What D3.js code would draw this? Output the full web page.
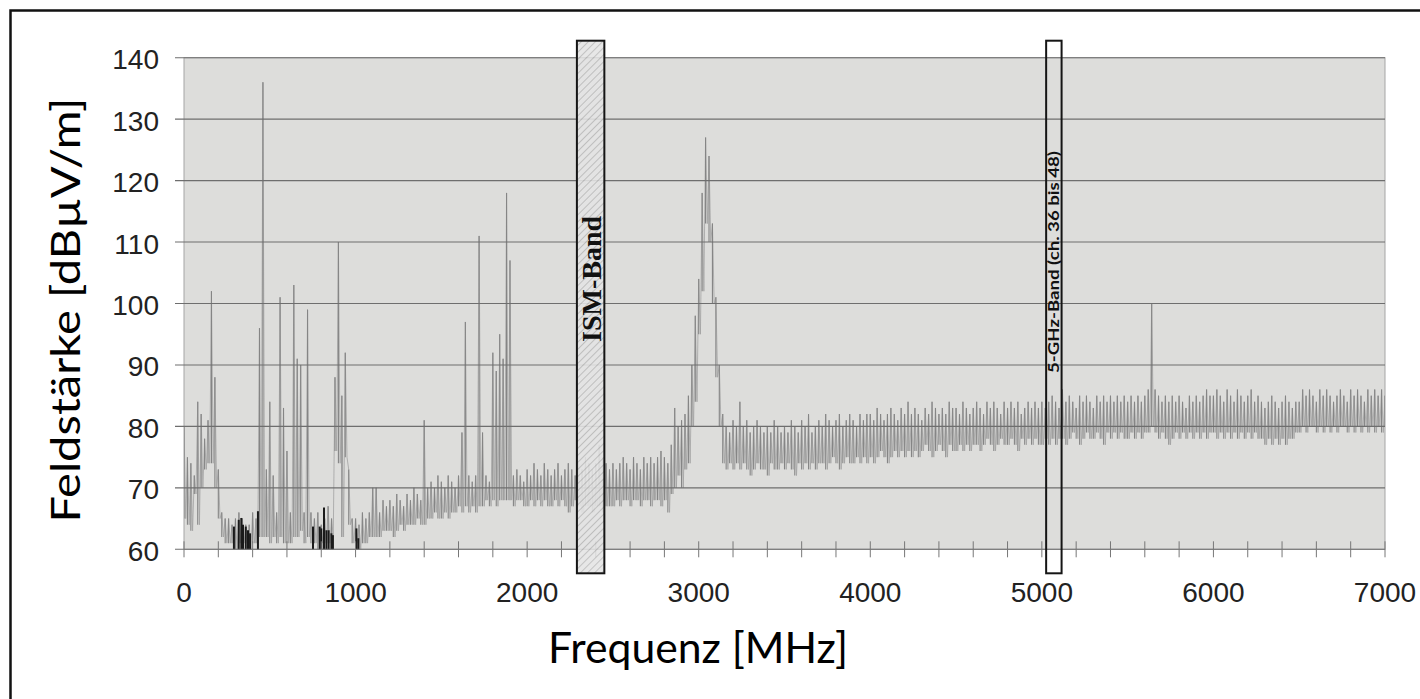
<!DOCTYPE html>
<html>
<head>
<meta charset="utf-8">
<script src="https://cdn.jsdelivr.net/npm/d3@7"></script>
<style>
  body { margin: 0; background: #fff; }
</style>
</head>
<body>
<div id="chart"></div>
<script>
// Spektrum 0–7000 MHz, Feldstärke in dBµV/m, 20-MHz-Bins (Maximum / Minimum je Bin)
const width = 1420;
const height = 699;
const plot = { left: 184, right: 1385, top: 57.7, bottom: 549.3 };

const binStep = 20; // MHz

const hiLevel = [
  80, 75, 74, 72, 84, 82, 78, 81, 102, 88, 73, 66, 65, 65, 64, 65, 66, 65, 64, 64, 66, 65, 96, 136, 73,
  84, 72, 66, 101, 83, 76, 66, 103, 91, 90, 66, 99, 66, 65, 66, 64, 65, 67, 65, 88, 110, 85, 92, 73, 65,
  65, 64, 66, 65, 66, 70, 70, 66, 68, 67, 68, 67, 69, 68, 67, 69, 68, 70, 69, 68, 81, 70, 71, 70, 72,
  71, 70, 72, 71, 70, 72, 79, 97, 72, 71, 72, 111, 79, 72, 71, 92, 89, 95, 91, 118, 107, 72, 73, 72, 71,
  73, 72, 74, 73, 72, 74, 73, 72, 73, 74, 72, 73, 74, 73, 72, 74, 73, 75, 74, 73, 74, 77, 75, 74, 73,
  74, 73, 74, 75, 74, 73, 75, 74, 73, 75, 74, 75, 74, 75, 76, 75, 74, 77, 83, 80, 81, 82, 85, 90, 98,
  104, 118, 127, 124, 113, 101, 90, 82, 80, 79, 81, 80, 84, 80, 81, 79, 80, 81, 80, 79, 80, 79, 81, 80, 79,
  80, 79, 81, 80, 79, 81, 80, 82, 79, 80, 81, 80, 82, 81, 80, 81, 82, 80, 81, 82, 81, 80, 82, 81, 82,
  82, 81, 83, 82, 81, 82, 83, 82, 81, 83, 82, 84, 82, 83, 82, 81, 83, 82, 84, 83, 82, 83, 82, 84, 83,
  83, 82, 84, 83, 82, 83, 84, 83, 82, 84, 83, 84, 83, 82, 84, 83, 84, 83, 84, 82, 83, 84, 83, 84, 83,
  84, 83, 84, 85, 84, 83, 86, 84, 85, 84, 83, 85, 84, 85, 84, 83, 85, 84, 85, 84, 85, 84, 85, 84, 85,
  84, 85, 84, 85, 84, 85, 86, 100, 86, 85, 84, 85, 84, 85, 84, 85, 84, 83, 85, 84, 85, 84, 85, 86, 85,
  85, 86, 85, 84, 86, 85, 84, 86, 85, 84, 85, 86, 84, 85, 84, 83, 84, 85, 84, 83, 84, 85, 84, 83, 84,
  84, 86, 85, 86, 85, 84, 86, 85, 86, 85, 84, 85, 86, 85, 84, 86, 85, 86, 85, 84, 86, 85, 86, 85, 86,
  85
];

const loLevel = [
  65, 64, 63, 69, 64, 70, 73, 74, 74, 70, 65, 62, 61, 61, 61, 60, 61, 61, 61, 60, 61, 61, 62, 62, 62,
  61, 62, 61, 62, 61, 61, 61, 62, 62, 63, 61, 62, 61, 61, 60, 61, 61, 61, 62, 76, 74, 62, 75, 64, 61,
  61, 60, 61, 61, 62, 62, 62, 62, 63, 63, 63, 62, 63, 64, 63, 64, 64, 64, 65, 64, 64, 65, 65, 66, 65,
  65, 66, 65, 66, 66, 67, 66, 67, 66, 67, 66, 67, 67, 68, 67, 68, 67, 68, 68, 68, 68, 67, 68, 68, 67,
  67, 68, 67, 68, 67, 68, 67, 67, 68, 67, 68, 67, 66, 67, 68, 67, 66, 67, 67, 66, 67, 67, 66, 67, 67,
  67, 68, 67, 68, 68, 67, 68, 68, 67, 68, 68, 67, 68, 68, 67, 68, 66, 69, 70, 72, 70, 73, 74, 80, 84,
  95, 102, 113, 110, 100, 88, 80, 74, 73, 74, 73, 74, 73, 74, 73, 72, 73, 74, 73, 73, 72, 74, 73, 73, 74,
  73, 74, 73, 72, 74, 73, 74, 73, 74, 73, 74, 74, 73, 74, 75, 74, 73, 74, 75, 74, 74, 75, 74, 75, 74,
  75, 74, 75, 76, 75, 74, 75, 76, 75, 76, 75, 76, 75, 76, 75, 76, 77, 76, 75, 76, 77, 76, 75, 77, 76,
  76, 77, 76, 77, 76, 77, 77, 76, 77, 78, 77, 76, 77, 78, 77, 77, 78, 77, 76, 78, 77, 78, 77, 78, 77,
  77, 78, 77, 78, 77, 78, 78, 77, 78, 79, 78, 77, 78, 79, 78, 78, 79, 78, 77, 79, 78, 79, 78, 79, 78,
  78, 79, 78, 79, 78, 79, 79, 80, 79, 78, 79, 78, 77, 78, 79, 78, 79, 78, 79, 78, 79, 78, 79, 78, 79,
  79, 78, 79, 78, 79, 78, 79, 78, 79, 78, 79, 78, 79, 78, 78, 77, 78, 77, 78, 77, 78, 77, 78, 78, 79,
  79, 80, 79, 80, 80, 79, 80, 79, 80, 79, 80, 79, 80, 80, 79, 80, 79, 80, 79, 80, 79, 80, 79, 80, 79,
  80
];

// dunkle Striche am unteren Rand (Pegel unter der Skala)
const darkBars = [
  [291, 63.7], [319, 64.8], [334, 65.1], [344, 64.0], [360, 63.7], [373, 63.1], [385, 62.6],
  [431, 66.2], [752, 63.7], [791, 63.7], [800, 63.4], [816, 66.8], [830, 63.1], [843, 63.1],
  [859, 62.6], [868, 62.3], [1005, 63.4], [1016, 61.8]
];

const bands = [
  { name: "ISM-Band", from: 2290, to: 2450, hatched: true },
  { name: "5-GHz-Band (ch. 36 bis 48)", from: 5025, to: 5115, hatched: false }
];

const yTicks = [60, 70, 80, 90, 100, 110, 120, 130, 140];
const xTicks = [0, 1000, 2000, 3000, 4000, 5000, 6000, 7000];
const xMinorStep = 200;

// SVG
const svg = d3.select("#chart")
  .append("svg")
  .attr("width", width)
  .attr("height", height);

const defs = svg.append("defs");
const hatch = defs.append("pattern")
  .attr("id", "hatch")
  .attr("patternUnits", "userSpaceOnUse")
  .attr("width", 5)
  .attr("height", 5)
  .attr("patternTransform", "rotate(45)");
hatch.append("rect").attr("width", 5).attr("height", 5).attr("fill", "#e4e4e4");
hatch.append("line").attr("x1", 0).attr("y1", 0).attr("x2", 0).attr("y2", 5)
  .attr("stroke", "#b0b0b0").attr("stroke-width", 1.6);

defs.append("clipPath").attr("id", "plotclip")
  .append("rect")
  .attr("x", plot.left).attr("y", plot.top)
  .attr("width", plot.right - plot.left).attr("height", plot.bottom - plot.top);

// Scales
const x = d3.scaleLinear().domain([0, 7000]).range([plot.left, plot.right]);
const y = d3.scaleLinear().domain([60, 140]).range([plot.bottom, plot.top]);

// outer frame (only left and top edge fall inside the picture)
svg.append("rect")
  .attr("x", 10.5).attr("y", 10.5)
  .attr("width", width + 20).attr("height", height + 20)
  .attr("fill", "none").attr("stroke", "#111").attr("stroke-width", 2.5);

// plot background
svg.append("rect")
  .attr("x", plot.left).attr("y", plot.top)
  .attr("width", plot.right - plot.left).attr("height", plot.bottom - plot.top)
  .attr("fill", "#dddddb")
  .attr("stroke", "#a5a5a5").attr("stroke-width", 1);

// trace: zigzag max -> min per bin, plus the min-max stroke of each bin
const pts = [];
hiLevel.forEach((h, i) => {
  const f = i * binStep;
  pts.push([f, h]);
  pts.push([Math.min(f + binStep / 2, 7000), loLevel[i]]);
});

const trace = svg.append("g").attr("clip-path", "url(#plotclip)");

trace.append("path")
  .datum(pts)
  .attr("fill", "none")
  .attr("stroke", "#a2a2a2")
  .attr("stroke-width", 0.8)
  .attr("d", d3.line().x(d => x(d[0])).y(d => y(d[1])));

trace.selectAll("line.bin")
  .data(hiLevel)
  .join("line")
  .attr("class", "bin")
  .attr("x1", (d, i) => x(i * binStep)).attr("x2", (d, i) => x(i * binStep))
  .attr("y1", (d, i) => y(loLevel[i])).attr("y2", d => y(d))
  .attr("stroke", "#858585")
  .attr("stroke-width", 1.1);

svg.append("g")
  .selectAll("line")
  .data(darkBars)
  .join("line")
  .attr("x1", d => x(d[0])).attr("x2", d => x(d[0]))
  .attr("y1", y(60)).attr("y2", d => y(d[1]))
  .attr("stroke", "#1a1a1a").attr("stroke-width", 2);

// gridlines + y labels
const yg = svg.append("g");
yg.selectAll("line")
  .data(yTicks)
  .join("line")
  .attr("x1", plot.left - 9).attr("x2", plot.right)
  .attr("y1", d => y(d)).attr("y2", d => y(d))
  .attr("stroke", "#6e6e6e").attr("stroke-width", 1.1);

yg.selectAll("text")
  .data(yTicks)
  .join("text")
  .attr("x", 159)
  .attr("y", d => y(d))
  .attr("dy", "0.41em")
  .attr("text-anchor", "end")
  .attr("font-family", "'Liberation Sans', Arial, sans-serif")
  .attr("font-size", 28)
  .attr("fill", "#222")
  .text(d => d);

// x ticks
const xg = svg.append("g");
xg.selectAll("line")
  .data(d3.range(0, 7001, xMinorStep))
  .join("line")
  .attr("x1", d => x(d)).attr("x2", d => x(d))
  .attr("y1", plot.bottom - 8).attr("y2", plot.bottom + 8)
  .attr("stroke", "#777").attr("stroke-width", 1);

xg.selectAll("text")
  .data(xTicks)
  .join("text")
  .attr("x", d => x(d))
  .attr("y", 602)
  .attr("text-anchor", "middle")
  .attr("font-family", "'Liberation Sans', Arial, sans-serif")
  .attr("font-size", 28)
  .attr("fill", "#222")
  .text(d => d);

// band boxes
const bg = svg.append("g");
bands.forEach(b => {
  const x0 = x(b.from), x1 = x(b.to);
  bg.append("rect")
    .attr("x", x0).attr("y", plot.top - 17)
    .attr("width", x1 - x0).attr("height", plot.bottom - plot.top + 41)
    .attr("fill", b.hatched ? "url(#hatch)" : "none")
    .attr("fill-opacity", 0.88)
    .attr("stroke", "#151515").attr("stroke-width", 2);
});

const ism = bands[0], ghz = bands[1];
svg.append("text")
  .attr("transform", `translate(${x(ism.to) - 3.5}, 279) rotate(-90)`)
  .attr("text-anchor", "middle")
  .attr("font-family", "'Liberation Serif', 'Times New Roman', serif")
  .attr("font-weight", "bold")
  .attr("font-size", 28)
  .attr("fill", "#111")
  .text(ism.name);

svg.append("text")
  .attr("transform", `translate(${x(ghz.to) - 2.5}, 262) rotate(-90)`)
  .attr("text-anchor", "middle")
  .attr("font-family", "Lato, 'Open Sans', sans-serif")
  .attr("font-weight", "bold")
  .attr("font-size", 15)
  .attr("textLength", 222)
  .attr("lengthAdjust", "spacingAndGlyphs")
  .attr("fill", "#111")
  .text(ghz.name);

// axis titles
svg.append("text")
  .attr("transform", "translate(80, 310) rotate(-90)")
  .attr("text-anchor", "middle")
  .attr("font-family", "Lato, 'Open Sans', sans-serif")
  .attr("font-size", 40)
  .attr("textLength", 425)
  .attr("lengthAdjust", "spacingAndGlyphs")
  .attr("fill", "#000")
  .text("Feldstärke [dBµV/m]");

svg.append("text")
  .attr("x", 548)
  .attr("y", 663)
  .attr("font-family", "Lato, 'Open Sans', sans-serif")
  .attr("font-size", 42)
  .attr("textLength", 300)
  .attr("lengthAdjust", "spacingAndGlyphs")
  .attr("fill", "#000")
  .text("Frequenz [MHz]");
</script>
</body>
</html>
